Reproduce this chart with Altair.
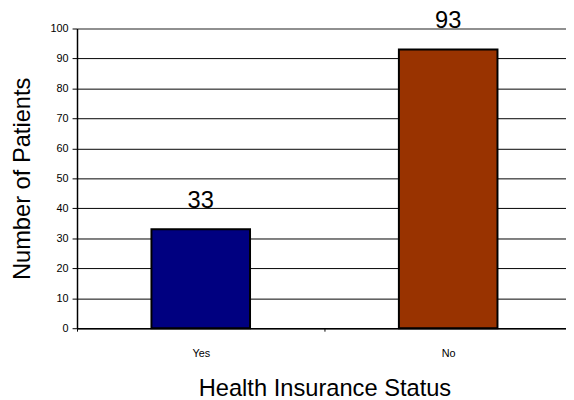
import altair as alt
import pandas as pd

categories = ["Yes", "No"]
patients = [33, 93]
bar_colors = ["#000080", "#993300"]
y_ticks = [0, 10, 20, 30, 40, 50, 60, 70, 80, 90, 100]

df = pd.DataFrame({"status": categories, "patients": patients, "color": bar_colors})

FONT = "Liberation Sans"

x_enc = alt.X(
    "status:N",
    sort=categories,
    scale=alt.Scale(domain=categories, range=[0, 502], paddingInner=0, paddingOuter=0),
    axis=alt.Axis(
        title="Health Insurance Status",
        labelAngle=0,
        labelFontSize=11,
        labelColor="black",
        labelPadding=17,
        tickBand="extent",
        tickSize=3,
        tickColor="black",
        domainColor="black",
        domainWidth=1.5,
        titleFontSize=24,
        titleFontWeight="normal",
        titleColor="black",
        titlePadding=18,
        grid=False,
    ),
)

y_enc = alt.Y(
    "patients:Q",
    scale=alt.Scale(domain=[0, 100], nice=False),
    axis=alt.Axis(
        title="Number of Patients",
        values=y_ticks,
        labelFontSize=11,
        labelColor="black",
        labelPadding=4,
        tickSize=5,
        tickColor="black",
        domainColor="black",
        domainWidth=1.5,
        titleFontSize=24,
        titleFontWeight="normal",
        titleColor="black",
        titlePadding=16,
        grid=True,
        gridColor={"condition": {"test": "datum.value === 100", "value": "#909090"}, "value": "black"},
        gridWidth={"condition": {"test": "datum.value === 100", "value": 2}, "value": 1},
        gridOpacity=1,
    ),
)

base = alt.Chart(df).encode(x=x_enc, y=y_enc)

bars = base.mark_bar(width=100, stroke="black", strokeWidth=2).encode(
    color=alt.Color("color:N", scale=None, legend=None)
)

labels = base.mark_text(dy=-22, fontSize=24, font=FONT, color="black", baseline="alphabetic").encode(
    text=alt.Text("patients:Q")
)

chart = (
    alt.layer(bars, labels)
    .properties(
        width=496,
        height=304,
        autosize=alt.AutoSizeParams(type="none"),
        padding={"left": 70, "top": 18, "right": 0, "bottom": 70},
        background="white",
    )
    .configure_view(stroke=None)
    .configure(font=FONT)
    .configure_axis(labelFont=FONT, titleFont=FONT)
)

chart.save("out.html", embed_options={"renderer": "svg", "actions": False})
